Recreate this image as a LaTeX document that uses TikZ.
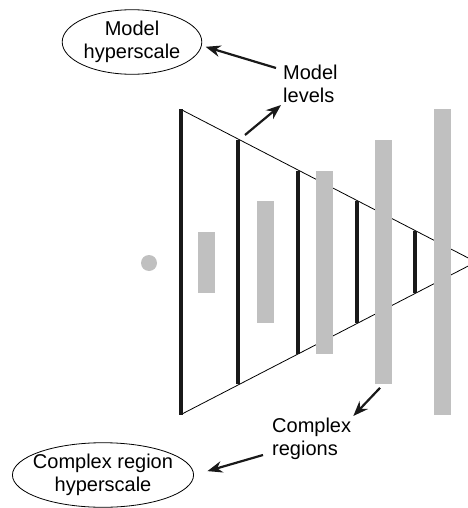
\documentclass[tikz,border=0pt]{standalone}
\usepackage{fontspec}
\setmainfont{Liberation Sans}
\usetikzlibrary{arrows.meta,shapes.geometric}
\definecolor{regiongray}{RGB}{192,192,192}

\begin{document}
\begin{tikzpicture}[x=1pt, y=-1pt, >={Stealth[length=15pt,width=11.5pt]},
                    font=\fontsize{20}{23}\selectfont]
    \tikzstyle{hyperscale}=[ellipse, draw, line width=0.8pt, align=center]
    \tikzstyle{note}=[align=left, inner sep=2pt, anchor=west]
    \tikzstyle{level}=[line width=3.5pt, black!90]
    \tikzstyle{region}=[rectangle, fill=regiongray, minimum width=17pt, inner sep=0pt]
    \tikzstyle{pointer}=[->, line width=2.2pt, black!90]

    \useasboundingbox (0,0) rectangle (467,508);

    % the cone and its levels
    \coordinate (apex) at (476,262);
    \draw[line width=0.8pt] (181,109.5) -- (apex) -- (181,414.5);
    \foreach \x/\h in {181/152.5, 238/122, 298/91.5, 357/61, 415/31}
        \draw[level] (\x,262-\h) -- (\x,262+\h);

    % regions
    \node[circle, fill=regiongray, minimum size=16pt, inner sep=0pt] (source) at (149,263) {};
    \foreach \i in {1,...,5}
        \node[region, minimum height=61pt*\i] (reg\i) at (147.5+59*\i,262) {};

    \node[hyperscale, inner xsep=1pt, inner ysep=2pt] (modelhs)  at (132,42)  {Model\\hyperscale};
    \node[hyperscale, inner xsep=-6pt, inner ysep=2pt] (regionhs) at (103,475) {Complex region\\hyperscale};
    \node[note] (levels)  at (281,84)  {Model\\levels};
    \node[note] (regions) at (270,439) {Complex\\regions};
    \coordinate (rim) at (245,135);

    \draw[pointer, shorten >=4pt] ([shift={(-5,-16)}]levels.west) -- (modelhs.-3);
    \draw[pointer] (rim) -- (levels.south west);
    \draw[pointer, shorten <=5pt] (reg4.south) -- (regions.north east);
    \draw[pointer, shorten >=14pt] ([shift={(-7,16)}]regions.west) -- (regionhs.east);
\end{tikzpicture}
\end{document}
